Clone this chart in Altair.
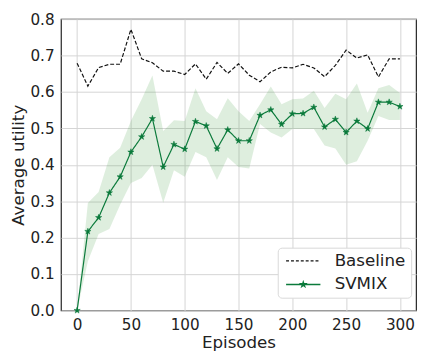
import altair as alt
import pandas as pd

episodes = list(range(0, 301, 10))
baseline = [0.679, 0.616, 0.667, 0.676, 0.676, 0.772, 0.691, 0.680, 0.657, 0.657,
            0.648, 0.677, 0.635, 0.681, 0.651, 0.677, 0.646, 0.628, 0.655, 0.668,
            0.666, 0.676, 0.666, 0.642, 0.673, 0.715, 0.693, 0.702, 0.641, 0.691, 0.691]
svmix = [0.0, 0.217, 0.255, 0.323, 0.367, 0.435, 0.477, 0.527, 0.394, 0.456,
         0.443, 0.519, 0.507, 0.444, 0.496, 0.466, 0.466, 0.536, 0.551, 0.511,
         0.540, 0.541, 0.558, 0.504, 0.525, 0.489, 0.520, 0.499, 0.572, 0.572, 0.560]
svmix_upper = [0.0, 0.295, 0.325, 0.421, 0.447, 0.52, 0.58, 0.645, 0.493, 0.522,
               0.520, 0.610, 0.547, 0.525, 0.583, 0.547, 0.52, 0.566, 0.615, 0.566,
               0.58, 0.582, 0.603, 0.556, 0.595, 0.58, 0.623, 0.543, 0.61, 0.619, 0.597]
svmix_lower = [0.0, 0.135, 0.21, 0.224, 0.29, 0.35, 0.364, 0.40, 0.296, 0.385,
               0.367, 0.435, 0.421, 0.358, 0.421, 0.394, 0.39, 0.512, 0.489, 0.475,
               0.498, 0.498, 0.498, 0.453, 0.445, 0.40, 0.41, 0.466, 0.534, 0.523, 0.523]
series_names = ["Baseline", "SVMIX"]
x_ticks = [0, 50, 100, 150, 200, 250, 300]
y_ticks = [0.0, 0.1, 0.2, 0.3, 0.4, 0.5, 0.6, 0.7, 0.8]

GREEN = "#0b7a3b"
LEGEND_GREEN = "#5aa877"
INK = "#222222"
FONT = "DejaVu Sans"


def star_path(cx, r):
    pts = [(0, -1), (0.2245, -0.309), (0.951, -0.309), (0.363, 0.118), (0.588, 0.809),
           (0, 0.382), (-0.588, 0.809), (-0.363, 0.118), (-0.951, -0.309), (-0.2245, -0.309)]
    s = "".join(("M" if i == 0 else "L") + f"{cx + px * r:.3f},{py * r:.3f}"
                for i, (px, py) in enumerate(pts))
    return s + "Z"


STAR = star_path(0, 1)
# legend symbols: unit = 5px (symbol size 100), drawn from -1 to 6 units (35px)
DASH_SYMBOL = "".join(f"M{-1 + i:.2f},0H{-1 + i + 0.6:.2f}" for i in range(7))
STAR_SYMBOL = "M-1,0H6" + star_path(2.5, 0.5)

lines = pd.DataFrame({
    "Episodes": episodes * 2,
    "value": baseline + svmix,
    "series": ["Baseline"] * len(episodes) + ["SVMIX"] * len(episodes),
})
band = pd.DataFrame({"Episodes": episodes, "lo": svmix_lower, "hi": svmix_upper})
pts = pd.DataFrame({"Episodes": episodes, "value": svmix})

xscale = alt.Scale(domain=[-15, 315], nice=False, zero=False)
yscale = alt.Scale(domain=[0, 0.8], nice=False)
xaxis = alt.Axis(values=x_ticks, title="Episodes", grid=True)
yaxis = alt.Axis(values=y_ticks, format=".1f", title="Average utility", grid=True)


def X(field="Episodes:Q"):
    return alt.X(field, scale=xscale, axis=xaxis)


def Y(field):
    return alt.Y(field, scale=yscale, axis=yaxis)


area = alt.Chart(band).mark_area(color="#3d9a3d", opacity=0.17).encode(
    x=X(), y=Y("lo:Q"), y2="hi:Q",
)

legend = alt.Legend(
    title=None, orient="none", legendX=221, legendY=233,
    symbolType=alt.ExprRef(f"datum.value === 'Baseline' ? '{DASH_SYMBOL}' : '{STAR_SYMBOL}'"),
    symbolFillColor=alt.ExprRef(f"datum.value === 'Baseline' ? 'transparent' : '{GREEN}'"),
    symbolStrokeColor=alt.ExprRef(f"datum.value === 'Baseline' ? '#111111' : '{LEGEND_GREEN}'"),
    symbolSize=100, symbolStrokeWidth=1.4, symbolOpacity=1,
)

line = alt.Chart(lines).mark_line(strokeWidth=1.2).encode(
    x=X(), y=Y("value:Q"),
    color=alt.Color("series:N",
                    scale=alt.Scale(domain=series_names, range=["#111111", GREEN]),
                    legend=legend),
    strokeDash=alt.StrokeDash("series:N",
                              scale=alt.Scale(domain=series_names, range=[[4, 2], [1, 0]]),
                              legend=None),
)

points = alt.Chart(pts).mark_point(shape=STAR, filled=True, color=GREEN,
                                   size=45, opacity=1, strokeWidth=0.5, stroke=GREEN).encode(
    x=X(), y=Y("value:Q"),
)

chart = alt.layer(area, line, points).properties(
    width=362, height=297,
    autosize=alt.AutoSizeParams(type="none"),
    padding={"left": 54, "top": 8, "right": 3, "bottom": 38},
).configure_view(
    stroke=INK, strokeWidth=1.2,
).configure_axis(
    labelFont=FONT, titleFont=FONT, labelFontSize=15.5, titleFontSize=17,
    titleFontWeight="normal", labelColor=INK, titleColor=INK,
    domain=False, ticks=False, labelPadding=7,
    gridColor="#d4d4d4", gridWidth=1,
).configure_axisX(
    titlePadding=2,
).configure_axisY(
    titlePadding=3,
).configure_legend(
    labelFont=FONT, labelFontSize=17, labelColor=INK,
    strokeColor="#d8d8d8", fillColor="white", cornerRadius=4,
    padding=5, rowPadding=6, labelOffset=36,
)

chart.save("out.html", embed_options={"renderer": "svg", "actions": False})
